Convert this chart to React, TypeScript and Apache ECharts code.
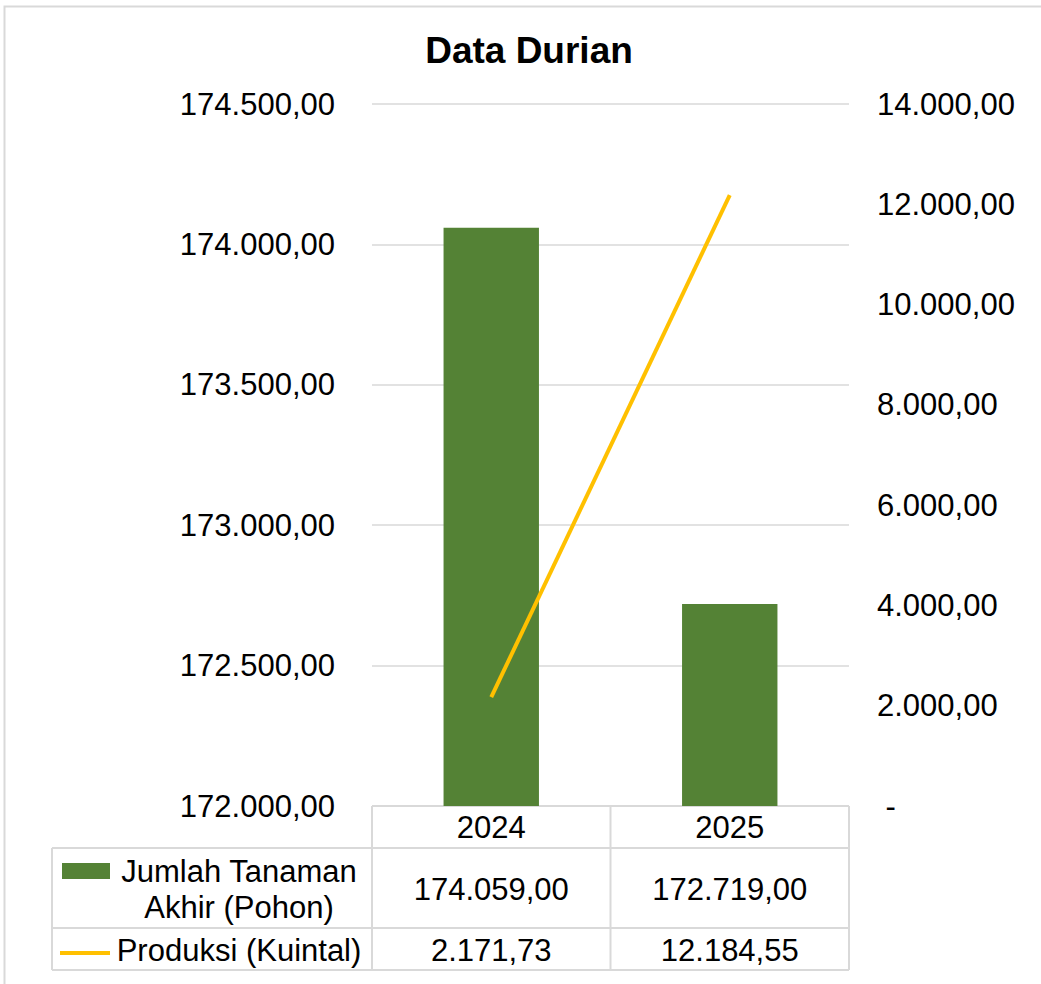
import React, { useEffect, useRef } from "react";
import * as echarts from "echarts";

const categories = ["2024", "2025"];
const jumlahTanaman = [174059, 172719];
const produksi = [2171.73, 12184.55];
const seriesNames = ["Jumlah Tanaman Akhir (Pohon)", "Produksi (Kuintal)"];
const legendLines = [["Jumlah Tanaman", "Akhir (Pohon)"], ["Produksi (Kuintal)"]];
const chartTitle = "Data Durian";

const FONT = "'Liberation Sans', Arial, sans-serif";
const FS = 31;
const W = 1041;
const H = 984;
const GL = 372;
const GR = 849;
const GT = 104;
const GB = 806;
const TL = 52;
const ROWS = [806, 848, 928, 970];
const GRID_COLOR = "#d9d9d9";
const GREEN = "#548235";
const YELLOW = "#FFC000";

function fmtId(v: number, dec = 2): string {
  const s = Math.abs(v).toFixed(dec);
  const [i, d] = s.split(".");
  const ip = i.replace(/\B(?=(\d{3})+(?!\d))/g, ".");
  return (v < 0 ? "-" : "") + ip + (d ? "," + d : "");
}

export default function App() {
  const ref = useRef<HTMLDivElement>(null);
  useEffect(() => {
    if (!ref.current) return;
    const chart = echarts.init(ref.current, null, { renderer: "svg" });
    const colW = (GR - GL) / categories.length;
    const g: any[] = [];
    g.push({ type: "rect", shape: { x: 4.5, y: 6.5, width: 1040, height: 980 }, style: { fill: "none", stroke: GRID_COLOR, lineWidth: 2 }, silent: true });
    g.push({ type: "text", x: 529, y: 50, style: { text: chartTitle, font: `bold 37px ${FONT}`, fill: "#000", align: "center", verticalAlign: "middle" } });
    const line = (x1: number, y1: number, x2: number, y2: number) =>
      g.push({ type: "line", shape: { x1, y1, x2, y2 }, style: { stroke: GRID_COLOR, lineWidth: 2 }, silent: true });
    line(GL, ROWS[0], GR, ROWS[0]);
    line(TL, ROWS[1], GR, ROWS[1]);
    line(TL, ROWS[2], GR, ROWS[2]);
    line(TL, ROWS[3], GR, ROWS[3]);
    line(TL, ROWS[1], TL, ROWS[3]);
    for (let i = 0; i <= categories.length; i++) {
      const x = GL + i * colW;
      line(x, ROWS[0], x, ROWS[3]);
    }
    const rowsData = [jumlahTanaman, produksi];
    rowsData.forEach((arr, r) => {
      const cy = (ROWS[r + 1] + ROWS[r + 2]) / 2 + 1;
      arr.forEach((v, i) => {
        g.push({ type: "text", x: GL + (i + 0.5) * colW, y: cy, style: { text: fmtId(v), font: `${FS}px ${FONT}`, fill: "#000", align: "center", verticalAlign: "middle" } });
      });
      const ls = legendLines[r];
      ls.forEach((t, k) => {
        g.push({ type: "text", x: 239, y: cy + (k - (ls.length - 1) / 2) * 36, style: { text: t, font: `${FS}px ${FONT}`, fill: "#000", align: "center", verticalAlign: "middle" } });
      });
    });
    g.push({ type: "rect", shape: { x: 62, y: 863, width: 48, height: 16 }, style: { fill: GREEN } });
    g.push({ type: "line", shape: { x1: 60, y1: 953, x2: 110, y2: 953 }, style: { stroke: YELLOW, lineWidth: 4 } });

    chart.setOption({
      animation: false,
      backgroundColor: "#fff",
      grid: { left: GL, right: W - GR, top: GT, bottom: H - GB, containLabel: false },
      xAxis: {
        type: "category",
        data: categories,
        axisLine: { show: false },
        axisTick: { show: false },
        axisLabel: { margin: 6, fontSize: FS, fontFamily: FONT, color: "#000" },
      },
      yAxis: [
        {
          type: "value",
          min: 172000,
          max: 174500,
          interval: 500,
          axisLine: { show: false },
          axisTick: { show: false },
          splitLine: { lineStyle: { color: GRID_COLOR, width: 1.5 } },
          axisLabel: { margin: 37, fontSize: FS, fontFamily: FONT, color: "#000", formatter: (v: number) => fmtId(v) },
        },
        {
          type: "value",
          min: 0,
          max: 14000,
          interval: 2000,
          axisLine: { show: false },
          axisTick: { show: false },
          splitLine: { show: false },
          axisLabel: { margin: 28, fontSize: FS, fontFamily: FONT, color: "#000", formatter: (v: number) => (v === 0 ? " -" : fmtId(v)) },
        },
      ],
      series: [
        { name: seriesNames[0], type: "bar", data: jumlahTanaman, yAxisIndex: 0, barWidth: "40%", itemStyle: { color: GREEN } },
        { name: seriesNames[1], type: "line", data: produksi, yAxisIndex: 1, symbol: "none", lineStyle: { color: YELLOW, width: 4 } },
      ],
      graphic: g,
    });
    return () => chart.dispose();
  }, []);
  return <div ref={ref} style={{ position: "absolute", left: 0, top: 0, width: W, height: H, background: "#fff" }} />;
}
